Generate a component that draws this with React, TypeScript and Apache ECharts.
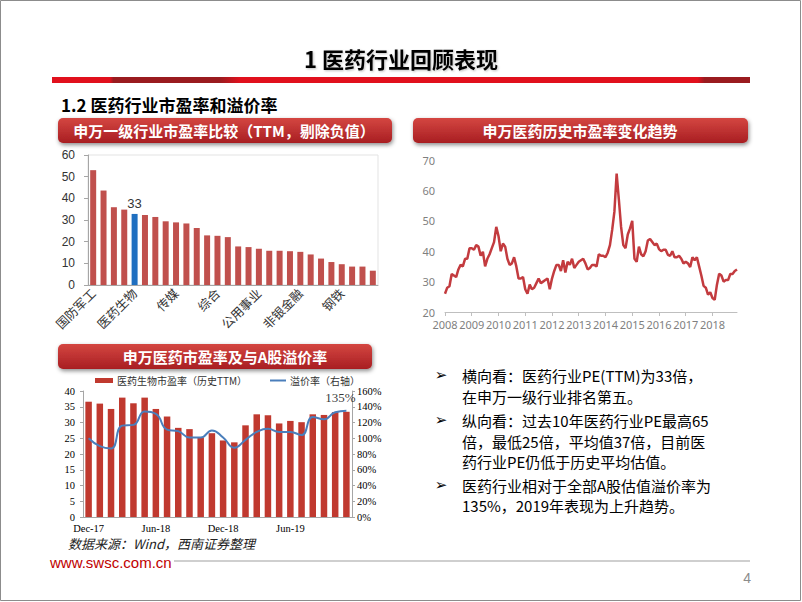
import React, { useEffect, useRef } from "react";
import * as echarts from "echarts";

// ---------- Chart 1: SW level-1 industry PE (TTM) ----------
const industryNames = [
  "国防军工", "计算机", "通信", "电子", "医药生物", "休闲服务", "食品饮料",
  "农林牧渔", "传媒", "电气设备", "机械设备", "有色金属", "综合", "轻工制造",
  "商业贸易", "家用电器", "公用事业", "化工", "纺织服装", "汽车", "非银金融",
  "交通运输", "建筑材料", "采掘", "钢铁", "建筑装饰", "房地产", "银行",
];
const industryPE = [
  53, 43.6, 35.9, 34.8, 32.8, 32.3, 31.4, 29.4, 28.9, 28.4, 26.3, 22.9, 22.7, 22.1,
  17.8, 17.5, 16.7, 15.8, 15.8, 15.6, 15.3, 14.1, 12.2, 10.6, 9.6, 8.5, 8.5, 6.6,
];
const highlightIndustry = "医药生物";

// ---------- Chart 2: SW pharma historical PE (monthly 2008-2018) ----------
const historyYears = ["2008", "2009", "2010", "2011", "2012", "2013", "2014", "2015", "2016", "2017", "2018"];
const pe2008 = [26, 28, 28.5, 32.5, 32, 31.5, 34, 35.5, 35, 37.5, 37.5, 41];
const pe2009 = [41, 40.5, 42, 41.5, 38.5, 39.8, 35, 37.5, 39, 41, 43, 48];
const pe2010 = [45, 40, 42.5, 41.5, 37.5, 35.5, 36, 38, 35, 31, 31, 31.5];
const pe2011 = [27.5, 26, 29, 27.5, 28, 29.5, 31, 29.5, 30, 30.5, 31, 27.5];
const pe2012 = [31, 33.5, 35.5, 35.5, 33.5, 37, 33, 36.5, 35.5, 37.5, 34.5, 35.5];
const pe2013 = [36.5, 37, 37.5, 36, 34, 34.5, 35.5, 35.5, 35, 39, 38.5, 38.5];
const pe2014 = [38, 39.5, 42, 47, 53, 65.5, 57, 48, 42, 41, 45.5, 47.5];
const pe2015 = [50, 37.5, 36.5, 41.5, 39, 38.3, 40, 43.5, 44, 43, 42, 42.5];
const pe2016 = [40.7, 40, 40.5, 40.5, 38.8, 38.5, 40, 38, 38, 38.5, 37.5, 36];
const pe2017 = [36.5, 36, 34.8, 38, 37, 38, 35, 32, 28.6, 28, 25.7, 26.5];
const pe2018 = [24.6, 24, 29, 32.6, 32, 30, 30.5, 30.5, 32.5, 32.5, 33.5, 34];
const peByYear = [pe2008, pe2009, pe2010, pe2011, pe2012, pe2013, pe2014, pe2015, pe2016, pe2017, pe2018];
const monthNums = ["01", "02", "03", "04", "05", "06", "07", "08", "09", "10", "11", "12"];

// ---------- Chart 3: pharma PE and premium vs A shares ----------
const recentMonths = [
  "Dec-17", "Jan-18", "Feb-18", "Mar-18", "Apr-18", "May-18", "Jun-18", "Jul-18",
  "Aug-18", "Sep-18", "Oct-18", "Nov-18", "Dec-18", "Jan-19", "Feb-19", "Mar-19",
  "Apr-19", "May-19", "Jun-19", "Jul-19", "Aug-19", "Sep-19", "Oct-19", "Nov-19",
];
const pharmaPE = [
  36.6, 36.0, 34.3, 37.9, 36.1, 37.9, 34.3, 31.9, 28.3, 27.9, 25.3, 26.6,
  24.3, 23.7, 29.1, 32.6, 32.3, 29.7, 30.5, 30.1, 32.6, 32.4, 33.3, 33.4,
];
const premiumPct = [
  100, 90, 87, 116, 117, 134, 131, 111, 109, 101, 101, 110,
  101, 88, 98, 108, 112, 108, 108, 104, 127, 124, 133, 135,
];

const bulletLines = [
  ["横向看：医药行业PE(TTM)为33倍，", "在申万一级行业排名第五。"],
  ["纵向看：过去10年医药行业PE最高65", "倍，最低25倍，平均值37倍，目前医", "药行业PE仍低于历史平均估值。"],
  ["医药行业相对于全部A股估值溢价率为", "135%，2019年表现为上升趋势。"],
];

const CJK = '"Microsoft YaHei", "Noto Sans CJK SC", sans-serif';
const SERIF = '"Liberation Serif", "Times New Roman", serif';

function txt(x: number, y: number, text: string, font: string, fill: string, align = "left", extra: any = {}) {
  return {
    type: "text",
    x,
    y,
    silent: true,
    style: {
      text,
      font,
      fill,
      textAlign: align,
      textVerticalAlign: "middle",
      align,
      verticalAlign: "middle",
      ...extra,
    },
  };
}

const headerFill = {
  type: "linear", x: 0, y: 0, x2: 0, y2: 1,
  colorStops: [
    { offset: 0, color: "#d44641" },
    { offset: 1, color: "#a81e22" },
  ],
};

function header(x: number, y: number, w: number, h: number, text: string, tx: number) {
  return [
    {
      type: "rect",
      silent: true,
      shape: { x, y, width: w, height: h, r: 5 },
      style: {
        fill: headerFill,
        shadowBlur: 4,
        shadowColor: "rgba(0,0,0,0.45)",
        shadowOffsetX: 1,
        shadowOffsetY: 2,
      },
    },
    txt(tx, y + h / 2, text, `bold 15px ${CJK}`, "#ffffff", "center"),
  ];
}

export default function App() {
  const ref = useRef<HTMLDivElement>(null);

  useEffect(() => {
    document.body.style.margin = "0";
    const chart = echarts.init(ref.current!, null, { renderer: "svg" });

    const monthLabels: string[] = [];
    const peHistory: number[] = [];
    historyYears.forEach((y, yi) => {
      monthNums.forEach((m, mi) => {
        monthLabels.push(`${y}-${m}`);
        peHistory.push(peByYear[yi][mi]);
      });
    });

    const graphics: any[] = [];
    // slide frame
    graphics.push({
      type: "rect", silent: true,
      shape: { x: 0.5, y: 0.5, width: 800, height: 600 },
      style: { fill: "none", stroke: "#8c8c8c", lineWidth: 1 },
    });
    // title
    graphics.push(txt(401, 58, "1 医药行业回顾表现", `bold 22px ${CJK}`, "#000000", "center", {
      textShadowColor: "rgba(0,0,0,0.25)", textShadowBlur: 2, textShadowOffsetX: 1, textShadowOffsetY: 1,
    }));
    // red separator
    graphics.push({
      type: "rect", silent: true,
      shape: { x: 52, y: 77, width: 698, height: 6 },
      style: {
        fill: {
          type: "linear", x: 0, y: 0, x2: 1, y2: 0,
          colorStops: [
            { offset: 0, color: "#e1101d" },
            { offset: 0.083, color: "#e1101d" },
            { offset: 0.088, color: "#9a1b1f" },
            { offset: 0.24, color: "#9a1b1f" },
            { offset: 0.27, color: "#e1101d" },
            { offset: 0.925, color: "#e1101d" },
            { offset: 0.935, color: "#9a1b1f" },
            { offset: 1, color: "#9a1b1f" },
          ],
        },
      },
    });
    // subtitle
    graphics.push(txt(61, 104, "1.2 医药行业市盈率和溢价率", `bold 17px ${CJK}`, "#000000", "left"));
    // headers
    graphics.push(...header(58, 118, 334, 25, "申万一级行业市盈率比较（TTM，剔除负值）", 224));
    graphics.push(...header(413, 118, 335, 25, "申万医药历史市盈率变化趋势", 580));
    graphics.push(...header(58, 344, 314, 25, "申万医药市盈率及与A股溢价率", 225));
    // chart 3 legend
    graphics.push({ type: "rect", silent: true, shape: { x: 95, y: 378, width: 18, height: 5 }, style: { fill: "#c0392f" } });
    graphics.push(txt(117, 380.5, "医药生物市盈率（历史TTM）", `10px ${CJK}`, "#333333", "left"));
    graphics.push({ type: "line", silent: true, shape: { x1: 270, y1: 380.5, x2: 286, y2: 380.5 }, style: { stroke: "#4a7ebb", lineWidth: 2 } });
    graphics.push(txt(290, 380.5, "溢价率（右轴）", `10px ${CJK}`, "#333333", "left"));
    // bullets
    const lineYs = [[375, 396.5], [420, 441.5, 461], [485, 505]];
    bulletLines.forEach((para, pi) => {
      graphics.push(txt(441, lineYs[pi][0], "➢", `15px "DejaVu Sans", sans-serif`, "#000000", "center"));
      para.forEach((line, li) => {
        graphics.push(txt(462, lineYs[pi][li], line, `15px ${CJK}`, "#000000", "left"));
      });
    });
    // footer
    graphics.push(txt(68, 543, "数据来源：Wind，西南证券整理", `italic 13px ${CJK}`, "#222222", "left"));
    graphics.push(txt(50, 562, "www.swsc.com.cn", `15px "Liberation Sans", Arial, sans-serif`, "#c00000", "left"));
    graphics.push({ type: "line", silent: true, shape: { x1: 174, y1: 561, x2: 750, y2: 561 }, style: { stroke: "#bfbfbf", lineWidth: 1.5 } });
    graphics.push(txt(751, 578, "4", `14px "Liberation Sans", Arial, sans-serif`, "#8c8c8c", "right"));

    const lastIdx = premiumPct.length - 1;

    chart.setOption({
      animation: false,
      backgroundColor: "#ffffff",
      textStyle: { fontFamily: CJK },
      grid: [
        { left: 88, top: 155, width: 290, height: 130, show: true, borderColor: "#e3e3e3", borderWidth: 1 },
        { left: 445, top: 160, width: 292, height: 152 },
        { left: 83, top: 391, width: 269, height: 126 },
      ],
      xAxis: [
        {
          gridIndex: 0, type: "category", data: industryNames,
          axisLine: { lineStyle: { color: "#a6a6a6" } },
          axisTick: { interval: 3, length: 4, lineStyle: { color: "#a6a6a6" } },
          axisLabel: { interval: 3, rotate: 45, fontSize: 12.5, color: "#333333", fontFamily: CJK, margin: 6 },
        },
        {
          gridIndex: 1, type: "category", data: monthLabels, boundaryGap: false,
          axisLine: { lineStyle: { color: "#bfbfbf" } },
          axisTick: { interval: 11, length: 4, lineStyle: { color: "#bfbfbf" } },
          axisLabel: {
            interval: 11, color: "#7f7f7f", fontSize: 11, margin: 7,
            fontFamily: '"Noto Sans", "Liberation Sans", sans-serif',
            formatter: (v: string) => v.slice(0, 4),
          },
        },
        {
          gridIndex: 2, type: "category", data: recentMonths,
          axisLine: { lineStyle: { color: "#a6a6a6" } },
          axisTick: { interval: 5, length: 4, lineStyle: { color: "#a6a6a6" } },
          axisLabel: { interval: 5, fontSize: 10.5, color: "#000000", fontFamily: SERIF, margin: 6 },
        },
      ],
      yAxis: [
        {
          gridIndex: 0, type: "value", min: 0, max: 60, interval: 10,
          splitLine: { show: false },
          axisLine: { show: true, lineStyle: { color: "#a6a6a6" } },
          axisTick: { show: true, length: 4, lineStyle: { color: "#a6a6a6" } },
          axisLabel: { fontSize: 12, color: "#333333", fontFamily: '"Liberation Sans", Arial, sans-serif', margin: 13 },
        },
        {
          gridIndex: 1, type: "value", min: 20, max: 70, interval: 10,
          splitLine: { show: false },
          axisLine: { show: false },
          axisTick: { show: false },
          axisLabel: { fontSize: 11, color: "#7f7f7f", fontFamily: '"Noto Sans", "Liberation Sans", sans-serif', margin: 10 },
        },
        {
          gridIndex: 2, type: "value", min: 0, max: 40, interval: 5,
          splitLine: { show: false },
          axisLine: { show: true, lineStyle: { color: "#a6a6a6" } },
          axisTick: { show: true, length: 3, lineStyle: { color: "#a6a6a6" } },
          axisLabel: { fontSize: 10.5, color: "#000000", fontFamily: SERIF, margin: 8 },
        },
        {
          gridIndex: 2, type: "value", position: "right", min: 0, max: 160, interval: 20,
          splitLine: { show: false },
          axisLine: { show: true, lineStyle: { color: "#a6a6a6" } },
          axisTick: { show: true, length: 3, lineStyle: { color: "#a6a6a6" } },
          axisLabel: { fontSize: 10.5, color: "#000000", fontFamily: SERIF, margin: 5, formatter: "{value}%" },
        },
      ],
      series: [
        {
          type: "bar", xAxisIndex: 0, yAxisIndex: 0, barWidth: 6,
          itemStyle: { color: "#c0504d" },
          data: industryPE.map((v, i) =>
            industryNames[i] === highlightIndustry
              ? {
                  value: v,
                  itemStyle: { color: "#1f6fc0" },
                  label: {
                    show: true, position: "top", distance: 4, fontSize: 13, color: "#333333",
                    fontFamily: '"Liberation Sans", Arial, sans-serif',
                    formatter: (p: any) => String(Math.round(p.value)),
                  },
                }
              : v
          ),
        },
        {
          type: "line", xAxisIndex: 1, yAxisIndex: 1, data: peHistory,
          showSymbol: false, symbol: "none",
          lineStyle: { color: "#c33b3f", width: 2.5 },
        },
        {
          type: "bar", xAxisIndex: 2, yAxisIndex: 2, data: pharmaPE, barWidth: "58%",
          itemStyle: { color: "#c0392f" },
        },
        {
          type: "line", xAxisIndex: 2, yAxisIndex: 3, data: premiumPct,
          smooth: true, showSymbol: false, symbol: "none",
          lineStyle: { color: "#4a7ebb", width: 2 },
        },
        {
          type: "scatter", xAxisIndex: 2, yAxisIndex: 3, symbolSize: 1,
          itemStyle: { color: "rgba(0,0,0,0)" },
          data: premiumPct.map((v, i) => (i === lastIdx ? v : "-")),
          label: {
            show: true, position: "top", distance: 6, offset: [-6, 0], fontSize: 13, color: "#000000",
            fontFamily: SERIF, formatter: (p: any) => `${p.value}%`,
          },
        },
      ],
      graphic: { elements: graphics },
    });

    return () => chart.dispose();
  }, []);

  return <div ref={ref} style={{ width: 802, height: 602 }} />;
}
